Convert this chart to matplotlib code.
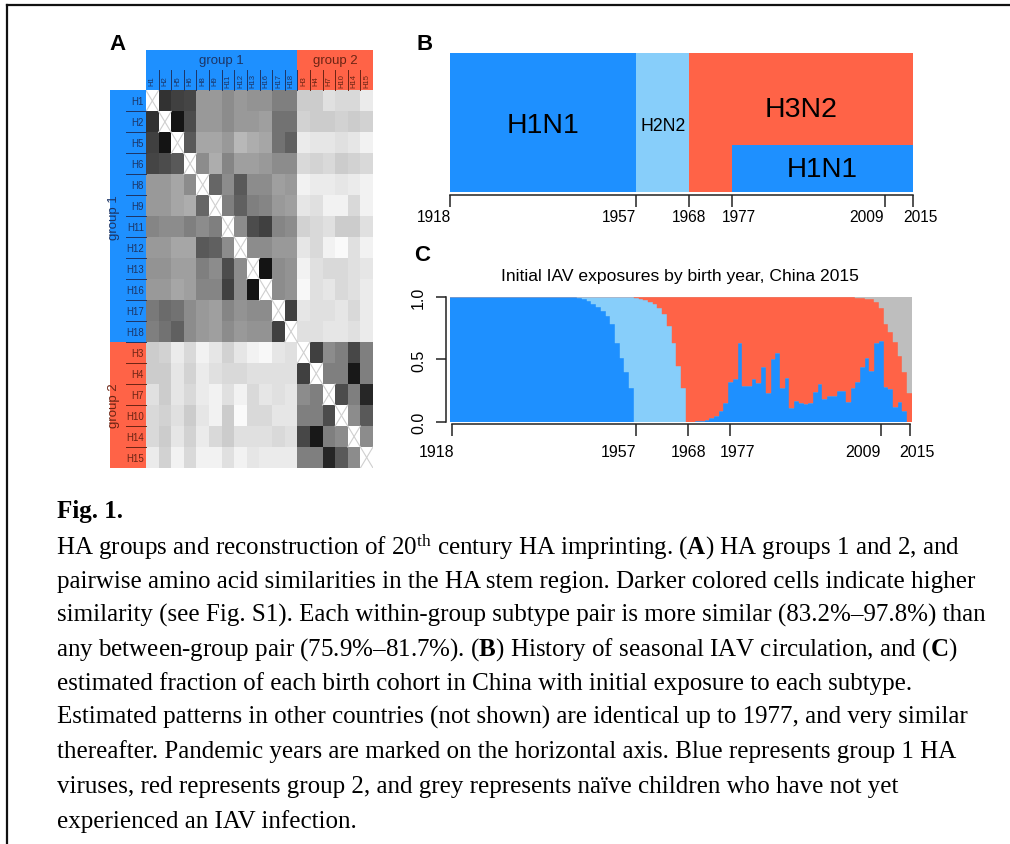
import numpy as np
import matplotlib
matplotlib.use("Agg")
import matplotlib.pyplot as plt
from matplotlib.lines import Line2D
from matplotlib.patches import Rectangle
from matplotlib.transforms import ScaledTranslation

# ---------------- panel A: HA stem similarity (%) ----------------
subtypes = ["H1", "H2", "H5", "H6", "H8", "H9", "H11", "H12", "H13", "H16", "H17", "H18",
            "H3", "H4", "H7", "H10", "H14", "H15"]
n_group1 = 12
nan = np.nan
similarity = [
    [nan, 93.4, 92.2, 91.8, 84.2, 84.2, 85.4, 84.2, 84.7, 84.7, 86.5, 86.5, 79.6, 79.6, 77.8, 78.5, 78.5, 76.8],
    [93.4, nan, 96.2, 91.1, 84.2, 84.2, 85.4, 84.2, 84.2, 83.7, 87.6, 87.6, 79.1, 79.6, 79.6, 79.1, 79.6, 79.1],
    [92.2, 96.2, nan, 90.0, 83.0, 83.0, 84.2, 81.4, 82.4, 83.0, 87.6, 89.3, 76.8, 77.3, 77.3, 77.8, 77.3, 76.2],
    [91.8, 91.1, 90.0, nan, 85.4, 82.4, 86.0, 83.7, 83.7, 84.2, 85.4, 85.4, 78.5, 78.9, 78.5, 79.6, 79.1, 78.5],
    [84.2, 84.2, 83.0, 85.4, nan, 88.8, 85.4, 90.0, 85.4, 85.4, 83.7, 84.2, 76.2, 76.8, 76.8, 77.3, 76.8, 76.2],
    [84.2, 84.2, 83.0, 82.4, 88.8, nan, 86.5, 89.3, 86.5, 86.0, 84.2, 83.7, 77.3, 77.8, 76.2, 76.2, 78.5, 76.2],
    [86.0, 85.4, 85.4, 86.5, 85.4, 86.5, nan, 85.4, 91.1, 92.2, 86.0, 85.4, 79.1, 78.5, 77.8, 79.6, 79.6, 77.8],
    [84.2, 84.2, 83.0, 83.0, 90.0, 89.3, 85.4, nan, 85.4, 85.4, 84.2, 84.2, 77.3, 78.5, 76.2, 75.5, 77.8, 76.2],
    [84.7, 84.7, 83.7, 83.7, 86.5, 85.4, 91.1, 85.4, nan, 96.2, 85.4, 84.7, 76.2, 77.8, 78.5, 78.5, 77.8, 77.3],
    [84.2, 84.2, 83.0, 83.7, 86.0, 86.0, 92.2, 85.4, 96.2, nan, 85.4, 84.7, 75.7, 77.8, 77.3, 78.5, 77.8, 76.8],
    [87.0, 88.3, 87.6, 85.4, 84.2, 83.7, 86.0, 84.7, 85.4, 85.4, nan, 92.2, 77.3, 77.8, 77.8, 77.3, 78.5, 76.8],
    [86.5, 87.6, 89.3, 85.4, 84.2, 83.7, 85.4, 84.2, 84.7, 84.7, 92.2, nan, 77.8, 77.8, 77.3, 77.3, 77.8, 76.8],
    [79.6, 79.1, 76.8, 78.5, 76.2, 77.3, 79.1, 77.3, 76.2, 75.7, 77.3, 77.8, nan, 92.2, 85.4, 86.5, 91.6, 86.5],
    [79.6, 79.6, 77.3, 78.9, 76.8, 77.8, 78.5, 78.5, 77.8, 77.8, 77.8, 77.8, 92.2, nan, 86.5, 86.5, 95.7, 86.5],
    [77.8, 79.6, 77.3, 78.5, 76.8, 76.2, 77.8, 76.2, 78.5, 77.3, 77.8, 77.3, 85.4, 86.5, nan, 91.1, 86.5, 94.5],
    [78.5, 79.1, 77.8, 79.6, 77.3, 76.2, 79.6, 75.5, 78.5, 78.5, 77.3, 77.3, 86.5, 86.5, 91.1, nan, 85.4, 90.0],
    [78.5, 79.6, 77.3, 79.1, 76.8, 78.5, 79.6, 77.8, 77.8, 77.8, 78.5, 77.8, 91.6, 95.7, 86.5, 85.4, nan, 85.4],
    [76.8, 79.1, 76.2, 78.5, 76.2, 76.2, 77.8, 76.2, 77.3, 76.8, 76.8, 76.8, 86.5, 86.5, 94.5, 90.0, 85.4, nan],
]

# ---------------- panel B: seasonal circulation ----------------
era_labels = ["H1N1", "H2N2", "H3N2", "H1N1"]
era_start = [1918, 1957, 1968, 1977]
era_end = [1957, 1968, 2015, 2015]
pandemic_years = [1918, 1957, 1968, 1977, 2009, 2015]

# ---------------- panel C: first exposure by birth year 1918-2015 ----------------
birth_years = np.arange(1918, 2016)
frac_h1 = [
    1.0, 1.0, 1.0, 1.0, 1.0, 1.0, 1.0, 1.0, 1.0, 1.0,              # 1918-1927
    1.0, 1.0, 1.0, 1.0, 1.0, 1.0, 1.0, 1.0, 1.0, 1.0,              # 1928-1937
    1.0, 1.0, 1.0, 1.0, 1.0, 1.0, 0.997, 0.99, 0.98, 0.965,        # 1938-1947
    0.94, 0.92, 0.89, 0.85, 0.78, 0.63, 0.51, 0.40, 0.27, 0.0,     # 1948-1957
    0.0, 0.0, 0.0, 0.0, 0.0, 0.0, 0.0, 0.0, 0.0, 0.0,              # 1958-1967
    0.0, 0.002, 0.004, 0.008, 0.015, 0.03, 0.05, 0.09, 0.15, 0.32,  # 1968-1977
    0.34, 0.63, 0.29, 0.29, 0.34, 0.31, 0.44, 0.23, 0.50, 0.55,    # 1978-1987
    0.27, 0.35, 0.11, 0.17, 0.15, 0.14, 0.15, 0.24, 0.30, 0.18,    # 1988-1997
    0.21, 0.21, 0.25, 0.25, 0.16, 0.27, 0.32, 0.44, 0.51, 0.41,    # 1998-2007
    0.63, 0.65, 0.28, 0.26, 0.12, 0.16, 0.09, 0.0,                 # 2008-2015
]
frac_h2 = [
    0, 0, 0, 0, 0, 0, 0, 0, 0, 0,
    0, 0, 0, 0, 0, 0, 0, 0, 0, 0,
    0, 0, 0, 0, 0, 0, 0.003, 0.01, 0.02, 0.035,
    0.06, 0.08, 0.11, 0.15, 0.22, 0.37, 0.49, 0.60, 0.73, 0.99,
    0.985, 0.975, 0.96, 0.94, 0.91, 0.86, 0.77, 0.63, 0.45, 0.27,
    0, 0, 0, 0, 0, 0, 0, 0, 0, 0,
    0, 0, 0, 0, 0, 0, 0, 0, 0, 0,
    0, 0, 0, 0, 0, 0, 0, 0, 0, 0,
    0, 0, 0, 0, 0, 0, 0, 0, 0, 0,
    0, 0, 0, 0, 0, 0, 0, 0,
]
frac_naive = [
    0, 0, 0, 0, 0, 0, 0, 0, 0, 0,
    0, 0, 0, 0, 0, 0, 0, 0, 0, 0,
    0, 0, 0, 0, 0, 0, 0, 0, 0, 0,
    0, 0, 0, 0, 0, 0, 0, 0, 0, 0,
    0, 0, 0, 0, 0, 0, 0, 0, 0, 0,
    0, 0, 0, 0, 0, 0, 0, 0, 0, 0,
    0, 0, 0, 0, 0, 0, 0, 0, 0, 0,
    0, 0, 0, 0, 0, 0, 0, 0, 0, 0,
    0, 0, 0.002, 0.003, 0.004, 0.005, 0.007, 0.01, 0.015, 0.02,
    0.04, 0.09, 0.22, 0.28, 0.36, 0.47, 0.60, 0.77,
]

caption_title = "Fig. 1."
caption_lines = [
    r"HA groups and reconstruction of 20$^{\mathrm{th}}$ century HA imprinting. ($\mathbf{A}$) HA groups 1 and 2, and",
    "pairwise amino acid similarities in the HA stem region. Darker colored cells indicate higher",
    "similarity (see Fig. S1). Each within-group subtype pair is more similar (83.2%–97.8%) than",
    r"any between-group pair (75.9%–81.7%). ($\mathbf{B}$) History of seasonal IAV circulation, and ($\mathbf{C}$)",
    "estimated fraction of each birth cohort in China with initial exposure to each subtype.",
    "Estimated patterns in other countries (not shown) are identical up to 1977, and very similar",
    "thereafter. Pandemic years are marked on the horizontal axis. Blue represents group 1 HA",
    "viruses, red represents group 2, and grey represents naïve children who have not yet",
    "experienced an IAV infection.",
]

BLUE = "#1E90FF"
LIGHT = "#87CEFA"
RED = "#FF6347"
GREY = "#BEBEBE"
INK = "#222222"

plt.rcParams["font.family"] = ["Liberation Sans", "DejaVu Sans"]
plt.rcParams["mathtext.fontset"] = "custom"
plt.rcParams["mathtext.rm"] = "Liberation Serif"
plt.rcParams["mathtext.bf"] = "Liberation Serif:bold"
plt.rcParams["mathtext.it"] = "Liberation Serif:italic"

W, H = 1010, 845
fig = plt.figure(figsize=(W / 100, H / 100), dpi=100)
fig.patch.set_facecolor("white")


def fx(px):
    return px / W


def fy(py):
    return 1 - py / H


def shift_labels(labels, shifts_px):
    # the year labels sit off-centre from their ticks in the original
    for lab, dx in zip(labels, shifts_px):
        lab.set_transform(lab.get_transform() + ScaledTranslation(dx / 100, 0, fig.dpi_scale_trans))


# page frame
fig.add_artist(Line2D([fx(7), 1], [fy(6), fy(6)], color="#111111", lw=1.6))
fig.add_artist(Line2D([fx(7), fx(7)], [0, fy(6)], color="#111111", lw=1.6))

# ---------------- A ----------------
axA = fig.add_axes([fx(146), fy(469), fx(227), 377.6 / H])
cmap = plt.get_cmap("gray_r").copy()
cmap.set_bad("white")
mat = np.ma.masked_invalid(np.array(similarity))
axA.imshow(mat, cmap=cmap, vmin=75, vmax=98, aspect="auto", interpolation="nearest")
n = len(subtypes)
axA.set_xlim(-0.5, n - 0.5)
axA.set_ylim(n - 0.5, -0.5)
axA.axis("off")
for i in range(n):
    axA.plot([i - 0.5, i + 0.5], [i - 0.5, i + 0.5], color="#cfcfcf", lw=0.8)
    axA.plot([i - 0.5, i + 0.5], [i + 0.5, i - 0.5], color="#cfcfcf", lw=0.8)

row_px = 377.6 / n
col_px = 227 / n
top_h = 40.4 / row_px
left_w = 36.4 / col_px
txt_blue = "#1c3566"
txt_red = "#6b2414"
groups = [(0, n_group1, BLUE, txt_blue, "group 1"), (n_group1, n, RED, txt_red, "group 2")]
for g0, g1, col, tcol, name in groups:
    axA.add_patch(Rectangle((g0 - 0.5, -0.5 - top_h), g1 - g0, top_h, facecolor=col,
                            edgecolor="none", clip_on=False))
    axA.add_patch(Rectangle((-0.5 - left_w, g0 - 0.5), left_w, g1 - g0, facecolor=col,
                            edgecolor="none", clip_on=False))
    mid = (g0 + g1 - 1) / 2
    axA.text(mid, -0.5 - 30 / row_px, name, ha="center", va="center", fontsize=9.5,
             color=tcol, clip_on=False)
    axA.text(-0.5 - 32.4 / col_px, mid, name, ha="center", va="center", fontsize=9.5,
             rotation=90, color=tcol, clip_on=False)
    for k in range(g0, g1):
        axA.text(k, -0.5 - 10.4 / row_px, subtypes[k], rotation=90, ha="center", va="center",
                 fontsize=5.5, color=tcol, clip_on=False)
        axA.text(-0.65, k, subtypes[k], ha="right", va="center", fontsize=7, color=tcol,
                 clip_on=False)
        if k < n - 1:
            axA.plot([k + 0.5, k + 0.5], [-0.5, -0.5 - 20.4 / row_px], color=tcol, lw=0.7,
                     clip_on=False)
            axA.plot([-0.5, -0.5 - 20.4 / col_px], [k + 0.5, k + 0.5], color=tcol, lw=0.7,
                     clip_on=False)

year_label_shift = [-16, -17.5, 0, 7.5, -18, 7]

# ---------------- B ----------------
axB = fig.add_axes([fx(450.1), fy(193.3), fx(463.3), 139.5 / H])
era_colors = [BLUE, LIGHT, RED, BLUE]
era_heights = [1, 1, 1, 0.34]
label_y = [0.48, 0.48, 0.60, 0.17]
label_size = [20.5, 12.7, 20.5, 20]
for lab, s, e, c, h, ly, fs in zip(era_labels, era_start, era_end, era_colors,
                                   era_heights, label_y, label_size):
    axB.bar(s, h, width=e - s, align="edge", color=c, linewidth=0)
    axB.text((s + e) / 2, ly, lab, ha="center", va="center", fontsize=fs, color="black")
axB.set_xlim(1918, 2015)
axB.set_ylim(0, 1)
for sp in ["left", "right", "top"]:
    axB.spines[sp].set_visible(False)
axB.spines["bottom"].set_position(("outward", 1.7))
axB.spines["bottom"].set_bounds(1918, 2015)
axB.spines["bottom"].set_color(INK)
axB.spines["bottom"].set_linewidth(1.1)
axB.set_yticks([])
axB.set_xticks(pandemic_years)
axB.set_xticklabels([str(y) for y in pandemic_years])
axB.tick_params(axis="x", length=8.3, width=1.1, color=INK, pad=2, labelsize=11.2)
shift_labels(axB.get_xticklabels(), year_label_shift)

# ---------------- C ----------------
axC = fig.add_axes([fx(450.1), fy(423), fx(461.8), 125.2 / H])
h1 = np.array(frac_h1)
h2 = np.array(frac_h2)
naive = np.array(frac_naive)
h3 = np.clip(1 - h1 - h2 - naive, 0, 1)
axC.bar(birth_years, h1, width=1.0, color=BLUE, edgecolor=BLUE, linewidth=0.3)
axC.bar(birth_years, h2, width=1.0, bottom=h1, color=LIGHT, edgecolor=LIGHT, linewidth=0.3)
axC.bar(birth_years, h3, width=1.0, bottom=h1 + h2, color=RED, edgecolor=RED, linewidth=0.3)
axC.bar(birth_years, naive, width=1.0, bottom=h1 + h2 + h3, color=GREY, edgecolor=GREY,
        linewidth=0.3)
axC.set_xlim(1917.5, 2015.5)
axC.set_ylim(0, 1)
for sp in ["right", "top"]:
    axC.spines[sp].set_visible(False)
axC.spines["bottom"].set_position(("outward", 1.5))
axC.spines["bottom"].set_bounds(1918, 2015)
axC.spines["left"].set_position(("outward", 3.2))
axC.spines["left"].set_bounds(0, 1)
for sp in ["bottom", "left"]:
    axC.spines[sp].set_color(INK)
    axC.spines[sp].set_linewidth(1.1)
axC.set_xticks(pandemic_years)
axC.set_xticklabels([str(y) for y in pandemic_years])
axC.set_yticks([0, 0.5, 1.0])
axC.set_yticklabels(["0.0", "0.5", "1.0"], rotation=90, va="center")
axC.tick_params(axis="x", length=8.6, width=1.1, color=INK, pad=6, labelsize=11.5)
axC.tick_params(axis="y", length=7.2, width=1.1, color=INK, pad=7, labelsize=11.5)
shift_labels(axC.get_xticklabels(), year_label_shift)
fig.text(fx(680), fy(277), "Initial IAV exposures by birth year, China 2015",
         ha="center", va="center", fontsize=12.6)

# panel letters
for letter, x, y in [("A", 117, 45), ("B", 425, 45), ("C", 422, 256)]:
    fig.text(fx(x), fy(y), letter, ha="center", va="center", fontsize=16, fontweight="bold")

# ---------------- caption ----------------
baselines = [554, 588, 622, 656, 690, 724, 758, 793, 828]
fig.text(fx(57.3), fy(518), caption_title, ha="left", va="baseline", fontsize=18,
         family="Liberation Serif", fontweight="bold")
for line, yb in zip(caption_lines, baselines):
    x0 = 55.8 if "$" in line else 57.3
    fig.text(fx(x0), fy(yb), line, ha="left", va="baseline", fontsize=18,
             family="Liberation Serif")

fig.savefig("out.png", dpi=100, facecolor="white")
